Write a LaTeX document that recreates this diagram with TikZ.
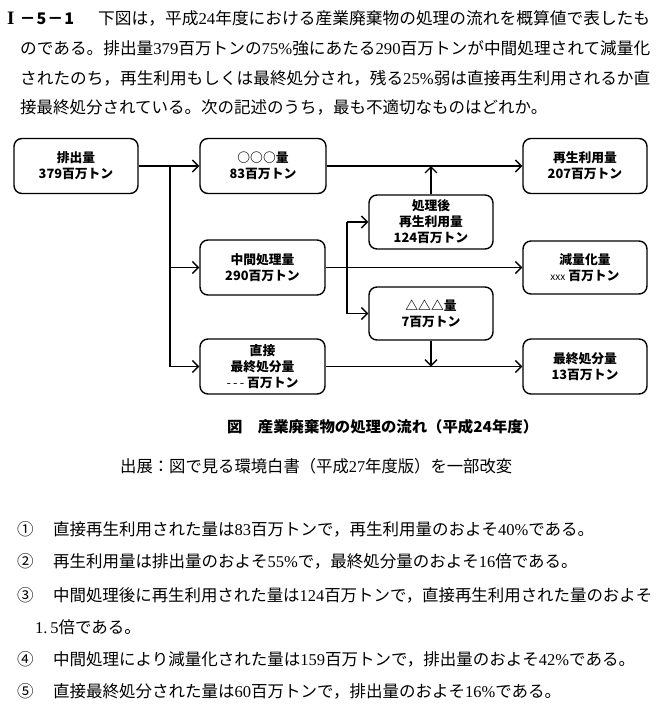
\documentclass[tikz,border=0pt]{standalone}
\usepackage{fontspec}
\usepackage{graphicx}
\usetikzlibrary{arrows.meta}
\setmainfont{Noto Sans CJK JP}
\newfontfamily\lat{Liberation Serif}
\newcommand\dg[1]{{\lat #1}}
\tikzset{
  bx/.style={draw, line width=1.4pt, rounded corners=8pt, minimum width=124pt,
    minimum height=55pt, align=center, inner sep=0pt,
    font=\bfseries\fontsize{12.8}{16}\selectfont},
  flow/.style={line width=1.4pt},
  arr/.style={flow, -{Straight Barb[length=6pt,width=12pt]}},
  txt/.style={anchor=west, inner sep=0pt, font=\fontsize{16.5}{20}\selectfont},
  captxt/.style={anchor=west, inner sep=0pt, font=\bfseries\fontsize{15}{18}\selectfont},
}
\begin{document}
\begin{tikzpicture}[x=1pt,y=-1pt]
\path[fill=white] (0,0) rectangle (665,713);
\useasboundingbox (0,0) rectangle (665,713);
% top text
\node[txt, font=\bfseries\fontsize{16}{20}\selectfont] (qn) at (7,18)
  {{\lat\bfseries\fontsize{19}{20}\selectfont I}\hspace{5pt}－\hspace{1pt}5\hspace{1pt}－\hspace{1pt}1};
\node[txt] (t1) at (98,18) {\resizebox{552pt}{\height}{下図は，平成\dg{24}年度における産業廃棄物の処理の流れを概算値で表したも}};
\node[txt] (t2) at (20,48) {\resizebox{630pt}{\height}{のである。排出量\dg{379}百万トンの\dg{75\%}強にあたる\dg{290}百万トンが中間処理されて減量化}};
\node[txt] (t3) at (20,78) {\resizebox{630pt}{\height}{されたのち，再生利用もしくは最終処分され，残る\dg{25\%}弱は直接再生利用されるか直}};
\node[txt] (t4) at (20,107) {接最終処分されている。次の記述のうち，最も不適切なものはどれか。};
% boxes
\node[bx] (A) at (76,166) {排出量\\379百万トン};
\node[bx, minimum width=126pt] (B) at (263,166) {○○○量\\83百万トン};
\node[bx, minimum width=125pt] (C) at (262.5,267.5) {中間処理量\\290百万トン};
\node[bx, minimum width=125pt] (D) at (262.5,366.5) {直接\\最終処分量\\{\mdseries-\,-\,-} 百万トン};
\node[bx, minimum height=54pt] (E) at (431,222) {処理後\\再生利用量\\124百万トン};
\node[bx, minimum height=53pt] (F) at (431,313.5) {△△△量\\7百万トン};
\node[bx] (G) at (585,166) {再生利用量\\207百万トン};
\node[bx, minimum height=53pt] (H) at (585,267.5) {減量化量\\{\mdseries\fontsize{10}{12}\selectfont xxx} 百万トン};
\node[bx] (I) at (585,366.5) {最終処分量\\13百万トン};
% connectors
\coordinate (j1) at (170,166);
\coordinate (j2) at (170,267.5);
\coordinate (j3) at (170,366.5);
\coordinate (k1) at (347,222);
\coordinate (k2) at (347,313.5);
\draw[flow] (A.east) -- (j1);
\draw[flow] (j1) -- (j3);
\draw[arr] (j1) -- (B.west);
\draw[arr] (j2) -- (C.west);
\draw[arr] (j3) -- (D.west);
\draw[arr] (B.east) -- (G.west);
\draw[arr] (C.east) -- (H.west);
\draw[arr] (D.east) -- (I.west);
\draw[flow] (k1) -- (k2);
\draw[arr] (k1) -- (E.west);
\draw[arr] (k2) -- (F.west);
\draw[arr] (E.north) -- (E.north |- G.west);
\draw[arr] (F.south) -- (F.south |- I.west);
% captions
\node[captxt] (cp) at (227,427) {\resizebox{311pt}{\height}{図　産業廃棄物の処理の流れ（平成24年度）}};
\node[txt] (src) at (120,466) {\resizebox{392pt}{\height}{出展：図で見る環境白書（平成\dg{27}年度版）を一部改変}};
% options
\node[txt] (n1) at (17,529) {①};
\node[txt] (o1) at (53,529) {直接再生利用された量は\dg{83}百万トンで，再生利用量のおよそ\dg{40\%}である。};
\node[txt] (n2) at (17,561) {②};
\node[txt] (o2) at (53,561) {再生利用量は排出量のおよそ\dg{55\%}で，最終処分量のおよそ\dg{16}倍である。};
\node[txt] (n3) at (17,595) {③};
\node[txt] (o3) at (53,595) {\resizebox{599pt}{\height}{中間処理後に再生利用された量は\dg{124}百万トンで，直接再生利用された量のおよそ}};
\node[txt] (o3b) at (35,627) {\dg{1.\,5}倍である。};
\node[txt] (n4) at (17,659) {④};
\node[txt] (o4) at (53,659) {中間処理により減量化された量は\dg{159}百万トンで，排出量のおよそ\dg{42\%}である。};
\node[txt] (n5) at (17,691) {⑤};
\node[txt] (o5) at (53,691) {直接最終処分された量は\dg{60}百万トンで，排出量のおよそ\dg{16\%}である。};
\end{tikzpicture}
\end{document}
